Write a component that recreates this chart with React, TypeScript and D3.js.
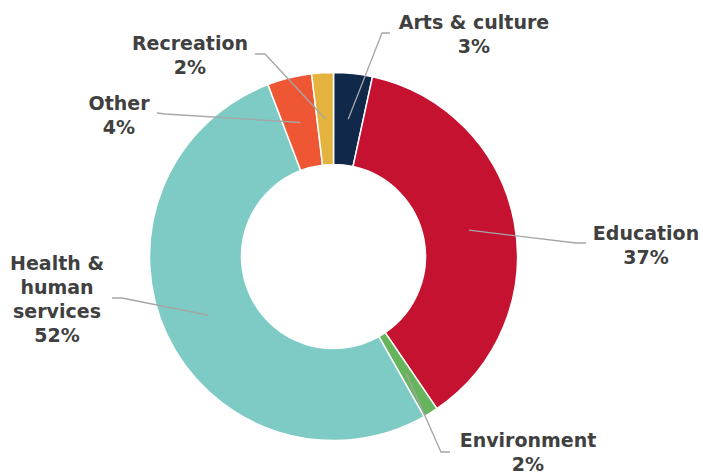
import * as d3 from "d3";
import React from "react";

// slice values (percent), clockwise from 12 o'clock
const categories = ["Arts & culture", "Education", "Environment", "Health & human services", "Other", "Recreation"];
const values = [3.4, 37.1, 1.3, 52.4, 3.9, 1.9];
const shownPct = ["3%", "37%", "2%", "52%", "4%", "2%"];
const labelLines = [["Arts & culture"], ["Education"], ["Environment"], ["Health &", "human", "services"], ["Other"], ["Recreation"]];
const colors = ["#10284a", "#c41230", "#66b45c", "#7dcbc4", "#ef5634", "#e4b33e"];

// label layout: text centre / first baseline, elbow and end of the leader line
const labelPos = [
  { x: 474, y: 29, elbow: [382, 33], end: [390, 33] },
  { x: 646, y: 240, elbow: [576, 243], end: [586, 243] },
  { x: 528, y: 447, elbow: [441, 452], end: [450, 452] },
  { x: 57, y: 270, elbow: [122, 298], end: [112, 298] },
  { x: 119, y: 110, elbow: [165, 114], end: [157, 113] },
  { x: 190, y: 50, elbow: [265, 54], end: [255, 54] },
];

const W = 703, H = 474;
const cx = 333.5, cy = 256.5, rOuter = 184, rInner = 92;

const App: React.FC = () => {
  const pie = d3.pie<number>().sort(null).value(d => d);
  const arcs = pie(values);
  const arc = d3.arc<d3.PieArcDatum<number>>().innerRadius(rInner).outerRadius(rOuter);
  const rMid = (rInner + rOuter) / 2;
  const line = d3.line();

  return (
    <div style={{ position: "fixed", left: 0, top: 0 }}>
      <svg width={W} height={H} style={{ background: "white", display: "block" }}>
        <g transform={`translate(${cx}, ${cy})`}>
          {arcs.map((a, i) => (
            <path key={categories[i]} d={arc(a)!} fill={colors[i]} stroke="white" strokeWidth={1.5} />
          ))}
        </g>
        {arcs.map((a, i) => {
          const p = labelPos[i];
          const ang = (a.startAngle + a.endAngle) / 2;
          const sx = cx + rMid * Math.sin(ang);
          const sy = cy - rMid * Math.cos(ang);
          const pts: [number, number][] = [[sx, sy], p.elbow as [number, number], p.end as [number, number]];
          return (
            <path key={"l" + i} d={line(pts)!} fill="none" stroke="#a6a6a6" strokeWidth={1.3} />
          );
        })}
        {labelLines.map((lines, i) => {
          const p = labelPos[i];
          const all = [...lines, shownPct[i]];
          return (
            <text key={"t" + i} x={p.x} y={p.y} textAnchor="middle" fontFamily="DejaVu Sans" fontWeight="bold" fontSize={19} fill="#404040">
              {all.map((s, j) => (
                <tspan key={j} x={p.x} y={p.y + j * 24}>{s}</tspan>
              ))}
            </text>
          );
        })}
      </svg>
    </div>
  );
};

export default App;
